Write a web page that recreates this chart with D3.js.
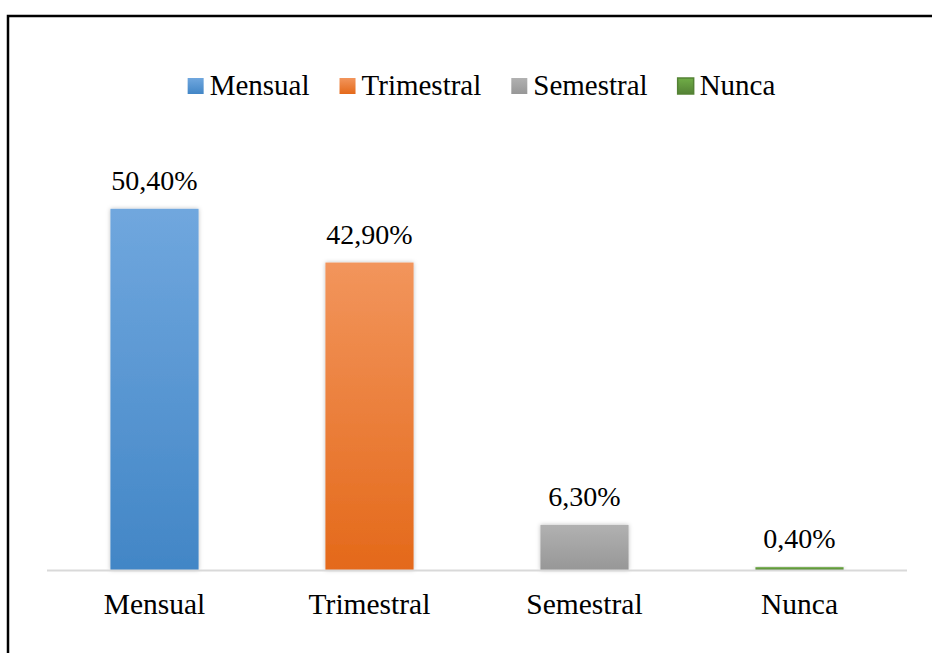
<!DOCTYPE html>
<html>
<head>
<meta charset="utf-8">
<script src="https://cdn.jsdelivr.net/npm/d3@7"></script>
<style>
  body { margin: 0; background: #fff; }
</style>
</head>
<body>
<div id="chart"></div>
<script>
const categories = ["Mensual", "Trimestral", "Semestral", "Nunca"];
const values = [50.4, 42.9, 6.3, 0.4];
const valueLabels = ["50,40%", "42,90%", "6,30%", "0,40%"];
const colors = [
    { top: "#70a7de", bottom: "#4286c6", stroke: "none" },
    { top: "#f2955c", bottom: "#e4691a", stroke: "none" },
    { top: "#b1b1b1", bottom: "#979797", stroke: "none" },
    { top: "#70ad47", bottom: "#548235", stroke: "#548235" }
];

const fontFamily = "'Liberation Serif', 'Times New Roman', 'DejaVu Serif', serif";
const width = 932, height = 653;

const svg = d3.select("#chart")
    .append("svg")
    .attr("width", width)
    .attr("height", height)
    .style("font-family", fontFamily);

const defs = svg.append("defs");

// vertical gradients for bars
colors.forEach((c, i) => {
    const g = defs.append("linearGradient")
        .attr("id", "grad" + i)
        .attr("x1", 0).attr("y1", 0).attr("x2", 0).attr("y2", 1);
    g.append("stop").attr("offset", "0%").attr("stop-color", c.top);
    g.append("stop").attr("offset", "100%").attr("stop-color", c.bottom);
});

// soft shadow
const shadow = defs.append("filter")
    .attr("id", "shadow")
    .attr("x", "-20%").attr("y", "-20%").attr("width", "140%").attr("height", "140%");
shadow.append("feDropShadow")
    .attr("dx", 0).attr("dy", 0)
    .attr("stdDeviation", 2)
    .attr("flood-color", "#000")
    .attr("flood-opacity", 0.25);

// outer border
svg.append("rect")
    .attr("x", 8)
    .attr("y", 16)
    .attr("width", 960)
    .attr("height", 680)
    .attr("fill", "none")
    .attr("stroke", "#000")
    .attr("stroke-width", 2.5);

const x = d3.scaleBand()
    .domain(categories)
    .range([47, 907])
    .paddingInner(0.59)
    .paddingOuter(0.295);

const y = d3.scaleLinear()
    .domain([0, 60])
    .range([570, 140]);

// bars
svg.selectAll("rect.bar")
    .data(values)
    .join("rect")
    .attr("class", "bar")
    .attr("x", (d, i) => x(categories[i]))
    .attr("y", d => y(d))
    .attr("width", x.bandwidth())
    .attr("height", d => y(0) - y(d))
    .attr("fill", (d, i) => `url(#grad${i})`)
    .attr("filter", "url(#shadow)");

// baseline
svg.append("line")
    .attr("x1", 47)
    .attr("x2", 907)
    .attr("y1", y(0) + 0.5)
    .attr("y2", y(0) + 0.5)
    .attr("stroke", "#d9d9d9")
    .attr("stroke-width", 2);

// value labels
svg.selectAll("text.value")
    .data(values)
    .join("text")
    .attr("class", "value")
    .attr("x", (d, i) => x(categories[i]) + x.bandwidth() / 2)
    .attr("y", d => y(d) - 19)
    .attr("text-anchor", "middle")
    .style("font-family", fontFamily)
    .style("font-size", "28px")
    .text((d, i) => valueLabels[i]);

// category labels
svg.selectAll("text.cat")
    .data(categories)
    .join("text")
    .attr("class", "cat")
    .attr("x", d => x(d) + x.bandwidth() / 2)
    .attr("y", 614)
    .attr("text-anchor", "middle")
    .style("font-family", fontFamily)
    .style("font-size", "29.5px")
    .text(d => d);

// legend
const legend = svg.append("g");
const items = legend.selectAll("g")
    .data(categories)
    .join("g");

items.append("rect")
    .attr("width", 16)
    .attr("height", 16)
    .attr("y", 78)
    .attr("fill", (d, i) => `url(#grad${i})`)
    .attr("stroke", (d, i) => colors[i].stroke)
    .attr("stroke-width", 1.5);

items.append("text")
    .attr("x", 22)
    .attr("y", 95)
    .style("font-family", fontFamily)
    .style("font-size", "29px")
    .text(d => d);

let offset = 0;
items.each(function () {
    const g = d3.select(this);
    g.attr("transform", `translate(${offset},0)`);
    offset += 22 + g.select("text").node().getComputedTextLength() + 30;
});
const legendWidth = offset - 30;
legend.attr("transform", `translate(${481.5 - legendWidth / 2},0)`);
</script>
</body>
</html>
